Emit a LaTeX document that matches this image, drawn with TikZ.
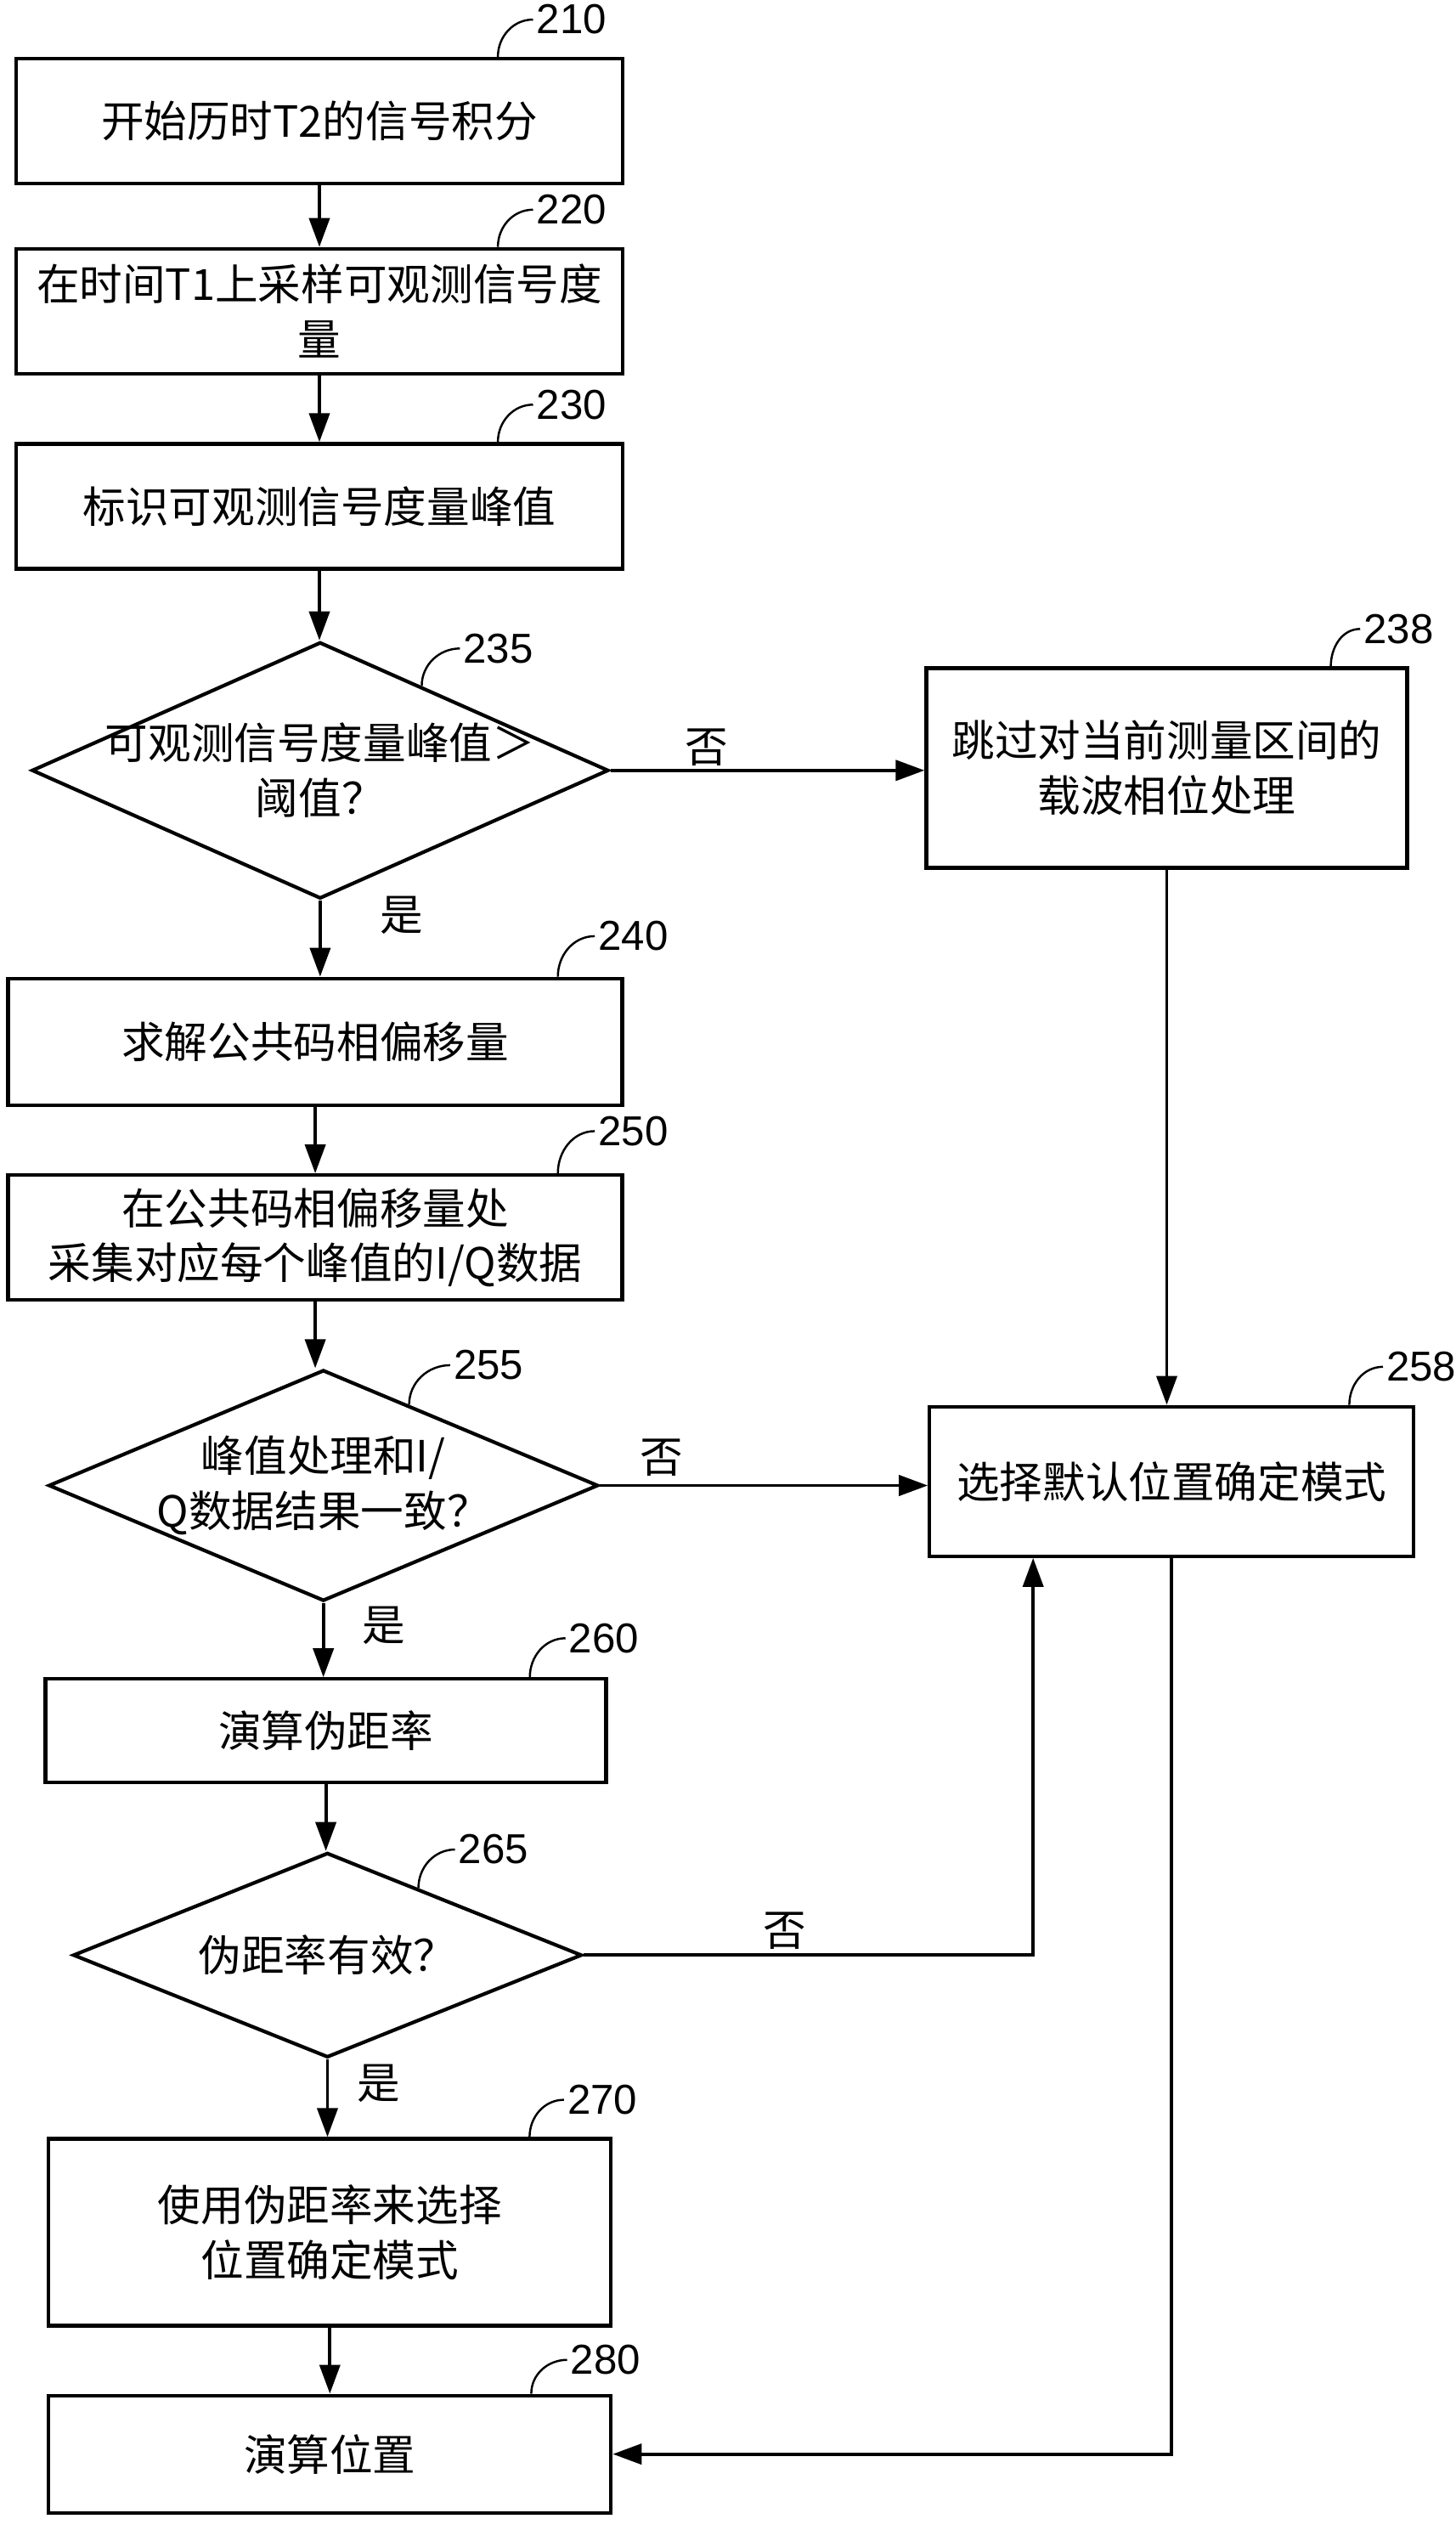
\documentclass[tikz,border=0pt]{standalone}
\usepackage{fontspec}
\usepackage{tikz}
\usetikzlibrary{shapes.geometric, arrows.meta, calc}
\newfontfamily\cjkfont{Noto Sans CJK SC}
\newfontfamily\numfont{Liberation Sans}

\begin{document}
\begin{tikzpicture}[scale=1.0,
        >={Triangle[length=3.4mm,width=2.4mm]},
        box/.style={draw, line width=1.2pt, align=center, inner sep=2pt, font=\cjkfont\fontsize{14.4}{18.4}\selectfont},
        decision/.style={diamond, aspect=2.3, draw, line width=1.2pt, align=center, inner xsep=-1cm, inner ysep=0pt, font=\cjkfont\fontsize{14.4}{18.4}\selectfont},
        flow/.style={->, line width=1.1pt},
        tag/.style={anchor=west, inner sep=1pt, font=\numfont\fontsize{14}{16}\selectfont},
        tagline/.style={line width=0.7pt},
        answer/.style={font=\cjkfont\fontsize{14.4}{18.4}\selectfont}]
        \useasboundingbox (0,0) rectangle (17.14,-29.98);

        % Main column
        \node[box, minimum width=7.14cm, minimum height=1.47cm] (b210) at (3.76,-1.425) {开始历时T2的信号积分};
        \node[box, minimum width=7.14cm, minimum height=1.47cm] (b220) at (3.76,-3.663) {在时间T1上采样可观测信号度\\量};
        \node[box, minimum width=7.14cm, minimum height=1.47cm] (b230) at (3.76,-5.959) {标识可观测信号度量峰值};
        \node[decision, minimum width=6.79cm, minimum height=3.02cm] (d235) at (3.769,-9.068) {可观测信号度量峰值＞\\阈值？};
        \node[box, minimum width=7.23cm, minimum height=1.49cm] (b240) at (3.711,-12.262) {求解公共码相偏移量};
        \node[box, minimum width=7.23cm, minimum height=1.47cm] (b250) at (3.711,-14.567) {在公共码相偏移量处\\采集对应每个峰值的I/Q数据};
        \node[decision, minimum width=6.47cm, minimum height=2.72cm] (d255) at (3.807,-17.485) {峰值处理和I/\\Q数据结果一致？};
        \node[box, minimum width=6.60cm, minimum height=1.22cm] (b260) at (3.836,-20.373) {演算伪距率};
        \node[decision, minimum width=5.99cm, minimum height=2.41cm] (d265) at (3.855,-23.013) {伪距率有效？};
        \node[box, minimum width=6.62cm, minimum height=2.20cm] (b270) at (3.883,-26.275) {使用伪距率来选择\\位置确定模式};
        \node[box, minimum width=6.62cm, minimum height=1.38cm] (b280) at (3.883,-28.886) {演算位置};

        % Right column
        \node[box, minimum width=5.66cm, minimum height=2.35cm] (b238) at (13.735,-9.039) {跳过对当前测量区间的\\载波相位处理};
        \node[box, minimum width=5.70cm, minimum height=1.76cm] (b258) at (13.793,-17.437) {选择默认位置确定模式};

        % Reference numbers
        \node[tag] (n210) at (6.275,-0.230) {210};
        \node[tag] (n220) at (6.275,-2.468) {220};
        \node[tag] (n230) at (6.275,-4.763) {230};
        \node[tag] (n235) at (5.414,-7.633) {235};
        \node[tag] (n238) at (16.012,-7.403) {238};
        \node[tag] (n240) at (7.002,-11.019) {240};
        \node[tag] (n250) at (7.002,-13.314) {250};
        \node[tag] (n255) at (5.299,-16.069) {255};
        \node[tag] (n258) at (16.280,-16.088) {258};
        \node[tag] (n260) at (6.657,-19.283) {260};
        \node[tag] (n265) at (5.356,-21.770) {265};
        \node[tag] (n270) at (6.638,-24.716) {270};
        \node[tag] (n280) at (6.676,-27.777) {280};

        \draw[tagline] ([xshift=-1.49cm]b210.north east) to[out=90, in=180] (n210.west);
        \draw[tagline] ([xshift=-1.49cm]b220.north east) to[out=90, in=180] (n220.west);
        \draw[tagline] ([xshift=-1.49cm]b230.north east) to[out=90, in=180] (n230.west);
        \draw[tagline] ($(d235.north)!0.35!(d235.east)$) to[out=90, in=180] (n235.west);
        \draw[tagline] ([xshift=-0.92cm]b238.north east) to[out=90, in=180] (n238.west);
        \draw[tagline] ([xshift=-0.78cm]b240.north east) to[out=90, in=180] (n240.west);
        \draw[tagline] ([xshift=-0.78cm]b250.north east) to[out=90, in=180] (n250.west);
        \draw[tagline] ($(d255.north)!0.31!(d255.east)$) to[out=90, in=180] (n255.west);
        \draw[tagline] ([xshift=-0.78cm]b258.north east) to[out=90, in=180] (n258.west);
        \draw[tagline] ([xshift=-0.92cm]b260.north east) to[out=90, in=180] (n260.west);
        \draw[tagline] ($(d265.north)!0.355!(d265.east)$) to[out=90, in=180] (n265.west);
        \draw[tagline] ([xshift=-0.98cm]b270.north east) to[out=90, in=180] (n270.west);
        \draw[tagline] ([xshift=-0.96cm]b280.north east) to[out=90, in=180] (n280.west);

        % Flow
        \draw[flow] (b210.south) -- (b210.south |- b220.north);
        \draw[flow] (b220.south) -- (b220.south |- b230.north);
        \draw[flow] (b230.south) -- (b230.south |- d235.north);
        \draw[flow] (d235.south) -- (d235.south |- b240.north);
        \draw[flow] (d235.east) -- (d235.east -| b238.west);
        \draw[flow] (b240.south) -- (b240.south |- b250.north);
        \draw[flow] (b250.south) -- (b250.south |- d255.north);
        \draw[flow] (b238.south) -- (b238.south |- b258.north);
        \draw[flow] (d255.east) -- (d255.east -| b258.west);
        \draw[flow] (d255.south) -- (d255.south |- b260.north);
        \draw[flow] (b260.south) -- (b260.south |- d265.north);
        \draw[flow] (d265.east) -| ([xshift=1.24cm]b258.south west);
        \draw[flow] (d265.south) -- (d265.south |- b270.north);
        \draw[flow] (b270.south) -- (b270.south |- b280.north);
        \draw[flow] (b258.south) |- (b280.east);

        % Branch labels
        \node[answer] (no235) at (8.322,-8.800) {否};
        \node[answer] (yes235) at (4.725,-10.770) {是};
        \node[answer] (no255) at (7.786,-17.160) {否};
        \node[answer] (yes255) at (4.515,-19.130) {是};
        \node[answer] (no265) at (9.240,-22.726) {否};
        \node[answer] (yes265) at (4.457,-24.525) {是};
    \end{tikzpicture}
\end{document}
